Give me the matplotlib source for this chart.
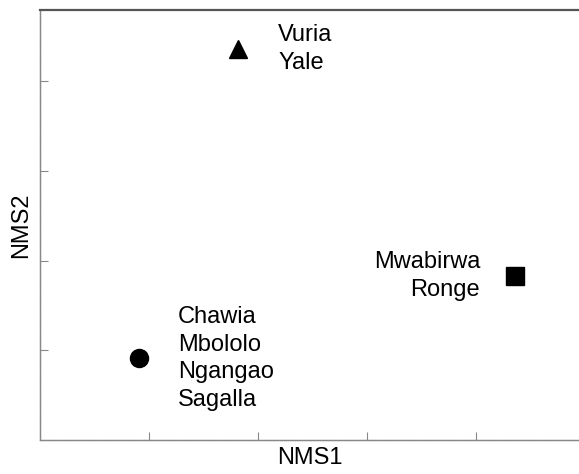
"""NMS ordination of sites: three groups of forest fragments."""

import matplotlib
matplotlib.use("Agg")
import matplotlib.pyplot as plt

# group centroids on the two NMS axes
nms1 = [1.82, 0.91, 4.36]
nms2 = [4.36, 0.91, 1.83]
markers = ["^", "o", "s"]
labels = ["Vuria\nYale", "Chawia\nMbololo\nNgangao\nSagalla", "Mwabirwa\nRonge"]

plt.rcParams.update({
    "font.family": ["Liberation Sans", "DejaVu Sans"],
    "font.size": 17,
})

fig = plt.figure(figsize=(5.79, 4.74), dpi=100)
ax = fig.add_axes([40 / 579, 34 / 474, 539 / 579, 430 / 474])

for x, y, m in zip(nms1, nms2, markers):
    ax.plot(x, y, marker=m, color="black", markersize=13, linestyle="none")

# labels beside each marker
offsets = [(40, 0, "left"), (39, 0, "left"), (-35, 0, "right")]
for x, y, txt, (dx, dy, ha) in zip(nms1, nms2, labels, offsets):
    ax.annotate(txt, (x, y), xytext=(dx, dy), textcoords="offset pixels",
                ha=ha, va="center", fontsize=17, linespacing=1.32)

ax.set_xlim(0, 539 / 109)
ax.set_ylim(0, 430 / 89.7)
ax.set_xticks([1, 2, 3, 4])
ax.set_yticks([1, 2, 3, 4])
ax.tick_params(direction="in", length=5.5, width=0.8, color="#888888",
               labelbottom=False, labelleft=False)

for side in ["left", "bottom"]:
    ax.spines[side].set_color("#888888")
    ax.spines[side].set_linestyle((0, (1, 0.6)))
    ax.spines[side].set_linewidth(1.0)
ax.spines["top"].set_color("#555555")
ax.spines["top"].set_linewidth(1.6)
ax.spines["right"].set_visible(False)

ax.set_xlabel("NMS1", fontsize=17, labelpad=5)
ax.set_ylabel("NMS2", fontsize=17, labelpad=6)

fig.savefig("out.png", dpi=100)
